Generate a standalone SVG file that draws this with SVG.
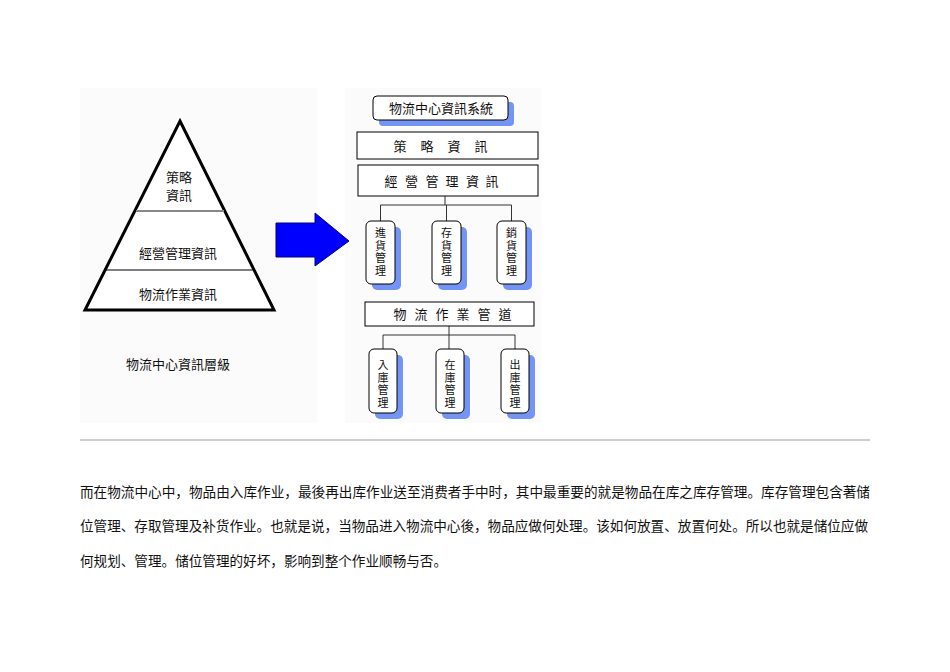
<svg xmlns="http://www.w3.org/2000/svg" width="950" height="672" viewBox="0 0 950 672">
<style>
.t{font-family:"Noto Sans CJK TC","Noto Sans CJK SC",sans-serif;font-size:13px;fill:#111}
.v{font-family:"Noto Sans CJK TC","Noto Sans CJK SC",sans-serif;font-size:11px;fill:#111;text-anchor:middle}
.p{font-family:"Noto Sans CJK SC","Noto Sans CJK TC",sans-serif;font-size:13.6px;fill:#111}
.box{fill:#fff;stroke:#000;stroke-width:1}
.sh{fill:#7394f2}
.ln{fill:none;stroke:#333;stroke-width:1}
</style>
<rect width="950" height="672" fill="#fff"/>
<rect x="80" y="88" width="237" height="335" fill="#fbfbfb"/>
<rect x="345" y="88" width="196" height="335" fill="#fbfbfb"/>

<g id="pyramid">
<polygon points="180,121 274,310 85,310" fill="#fff" stroke="#000" stroke-width="3" stroke-linejoin="miter"/>
<line x1="136" y1="211" x2="224" y2="211" stroke="#888" stroke-width="2"/>
<line x1="106" y1="270" x2="254" y2="270" stroke="#000" stroke-width="1.2"/>
<text class="t" x="179" y="182" text-anchor="middle">策略</text>
<text class="t" x="179" y="200" text-anchor="middle">資訊</text>
<text class="t" x="178" y="258" text-anchor="middle">經營管理資訊</text>
<text class="t" x="178" y="299" text-anchor="middle">物流作業資訊</text>
</g>
<g id="caption">
<text class="t" x="126" y="369">物流中心資訊層級</text>
</g>

<g id="arrow">
<polygon points="276,223 315,223 315,213 349,241 315,266 315,257 276,257" fill="#0000ff" stroke="#000080" stroke-width="1"/>
</g>

<g id="connectors">
<polyline class="ln" points="445,196 445,205"/>
<polyline class="ln" points="380.5,221 380.5,205 511.5,205 511.5,221"/>
<polyline class="ln" points="446.5,205 446.5,221"/>
<polyline class="ln" points="449,326 449,349"/>
<polyline class="ln" points="383,349 383,335 515,335 515,349"/>
</g>

<g id="system">
<rect class="sh" x="379" y="102" width="135" height="24" rx="4"/>
<rect class="box" x="373" y="96" width="135" height="24" rx="4"/>
<text class="t" x="441" y="113" text-anchor="middle">物流中心資訊系統</text>
</g>
<g id="strategy">
<rect class="box" x="357" y="132" width="181" height="27"/>
<text class="t" x="400 427 454 481" y="151" text-anchor="middle">策略資訊</text>
</g>
<g id="management">
<rect class="box" x="358" y="165" width="180" height="31"/>
<text class="t" x="391 411.5 432 452 472.5 492" y="186" text-anchor="middle">經營管理資訊</text>
</g>
<g id="purchase">
<rect class="sh" x="372" y="227" width="29" height="63" rx="5"/>
<rect class="box" x="366" y="221" width="29" height="63" rx="5"/>
<text class="v" x="380.5 380.5 380.5 380.5" y="237 249.5 262 274.5">進貨管理</text>
</g>
<g id="inventory">
<rect class="sh" x="438" y="227" width="29" height="63" rx="5"/>
<rect class="box" x="432" y="221" width="29" height="63" rx="5"/>
<text class="v" x="446.5 446.5 446.5 446.5" y="237 249.5 262 274.5">存貨管理</text>
</g>
<g id="sales">
<rect class="sh" x="503" y="227" width="29" height="63" rx="5"/>
<rect class="box" x="497" y="221" width="29" height="63" rx="5"/>
<text class="v" x="511.5 511.5 511.5 511.5" y="237 249.5 262 274.5">銷貨管理</text>
</g>
<g id="channel">
<rect class="box" x="365" y="302" width="169" height="24"/>
<text class="t" x="400 421 442 463 484 505" y="319" text-anchor="middle">物流作業管道</text>
</g>
<g id="inbound">
<rect class="sh" x="375" y="355" width="28" height="64" rx="5"/>
<rect class="box" x="369" y="349" width="28" height="64" rx="5"/>
<text class="v" x="383 383 383 383" y="369 381.5 394 406.5">入庫管理</text>
</g>
<g id="instock">
<rect class="sh" x="442" y="355" width="28" height="64" rx="5"/>
<rect class="box" x="436" y="349" width="28" height="64" rx="5"/>
<text class="v" x="450 450 450 450" y="369 381.5 394 406.5">在庫管理</text>
</g>
<g id="outbound">
<rect class="sh" x="507" y="355" width="28" height="64" rx="5"/>
<rect class="box" x="501" y="349" width="28" height="64" rx="5"/>
<text class="v" x="515 515 515 515" y="369 381.5 394 406.5">出庫管理</text>
</g>

<line x1="80" y1="440" x2="870" y2="440" stroke="#bdbdbd" stroke-width="1.5"/>

<text class="p" x="80" y="497" textLength="790" lengthAdjust="spacingAndGlyphs">而在物流中心中，物品由入库作业，最後再出库作业送至消费者手中时，其中最重要的就是物品在库之库存管理。库存管理包含著储</text>
<text class="p" x="80" y="531" textLength="788" lengthAdjust="spacingAndGlyphs">位管理、存取管理及补货作业。也就是说，当物品进入物流中心後，物品应做何处理。该如何放置、放置何处。所以也就是储位应做</text>
<text class="p" x="80" y="566">何规划、管理。储位管理的好坏，影响到整个作业顺畅与否。</text>
</svg>
